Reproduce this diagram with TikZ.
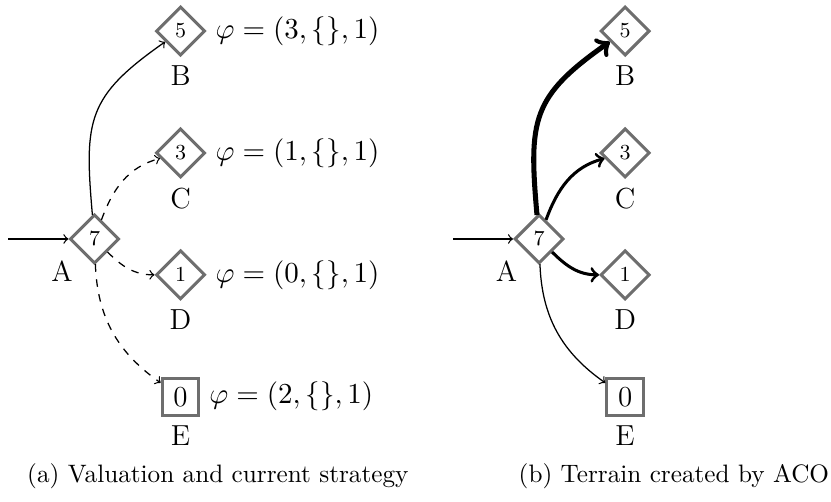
\RequirePackage{fix-cm}
\documentclass[tikz,border=0pt]{standalone}
\usetikzlibrary{shapes.geometric}
\definecolor{stateGray}{HTML}{6E6E6E}
\newcommand{\diagfont}{\fontsize{11.5}{14}\selectfont}
\newcommand{\digitfont}{\fontsize{8.5}{10}\selectfont}

\begin{document}
\begin{tikzpicture}[
  font=\diagfont,
  choice/.style={draw=stateGray,very thick,diamond,aspect=1,inner sep=0pt,minimum size=19.5pt,font=\digitfont},
  sink/.style={draw=stateGray,very thick,rectangle,inner sep=0pt,minimum size=14.6pt},
  every label/.style={font=\diagfont},
  move/.style={->,line width=0.5pt},
  caption/.style={font=\normalsize,anchor=base}]

\useasboundingbox (-1.318,-3.668) rectangle (10.271,3.333);

% (a) valuation
\node[choice,label=below left:A] (aA) at (0,0) {7};
\node[choice,label=below:B,label={right:$\varphi=(3,\{\},1)$}] (aB) at (1.2,2.9) {5};
\node[choice,label=below:C,label={right:$\varphi=(1,\{\},1)$}] (aC) at (1.2,1.2) {3};
\node[choice,label=below:D,label={right:$\varphi=(0,\{\},1)$}] (aD) at (1.2,-0.5) {1};
\node[sink,label=below:E,label={right:$\varphi=(2,\{\},1)$}] (aE) at (1.2,-2.2) {0};
\coordinate (aIn) at (-1.2,0);

\draw[move] (aIn) -- (aA);
\draw[move] (aA) to[out=95,in=-145,looseness=1.3] (aB);
\draw[move,dashed] (aA) to[out=70,in=-165] (aC);
\draw[move,dashed] (aA) to[out=-45,in=180] (aD);
\draw[move,dashed] (aA) to[out=-88,in=145] (aE);

\node[caption] (capA) at (1.72,-3.39) {(a) Valuation and current strategy};

% (b) terrain
\node[choice,label=below left:A] (bA) at (6.2,0) {7};
\node[choice,label=below:B] (bB) at (7.4,2.9) {5};
\node[choice,label=below:C] (bC) at (7.4,1.2) {3};
\node[choice,label=below:D] (bD) at (7.4,-0.5) {1};
\node[sink,label=below:E] (bE) at (7.4,-2.2) {0};
\coordinate (bIn) at (5.0,0);

\draw[move] (bIn) -- (bA);
\draw[move,line width=2pt] (bA) to[out=95,in=-145,looseness=1.3] (bB);
\draw[move,very thick] (bA) to[out=70,in=-165] (bC);
\draw[move,very thick] (bA) to[out=-45,in=180] (bD);
\draw[move] (bA) to[out=-88,in=145] (bE);

\node[caption] (capB) at (8.08,-3.39) {(b) Terrain created by ACO};
\end{tikzpicture}
\end{document}
